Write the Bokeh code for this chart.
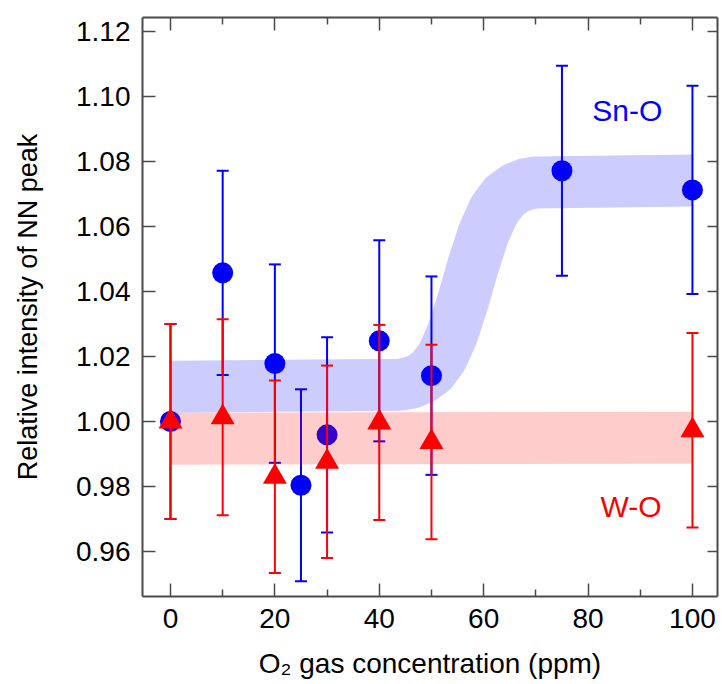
from bokeh.plotting import figure
from bokeh.models import (LinearAxis, FixedTicker, Range1d, Label, NumeralTickFormatter,
                          CustomLabelingPolicy)
from bokeh.embed import file_html
from bokeh.resources import INLINE

# ---- data ----
conc_sno = [0, 10, 20, 25, 30, 40, 50, 75, 100]
int_sno = [1.000, 1.0457, 1.0178, 0.9804, 0.9959, 1.0248, 1.0141, 1.0771, 1.0712]
err_sno = [0.030, 0.0314, 0.0305, 0.0295, 0.0300, 0.0309, 0.0305, 0.0323, 0.0320]

conc_wo = [0, 10, 20, 30, 40, 50, 100]
int_wo = [1.000, 1.0013, 0.9830, 0.9876, 0.9997, 0.9937, 0.9973]
err_wo = [0.030, 0.0301, 0.0296, 0.0296, 0.0300, 0.0299, 0.0299]

# guide bands (centre lines)
band_sno_x = [0, 44, 46, 48, 50, 52, 54, 56, 58, 60, 62, 64, 66, 68, 70, 100]
band_sno_y = [1.0107, 1.0113, 1.0119, 1.0132, 1.0155, 1.0198, 1.0269, 1.0368,
              1.0480, 1.0579, 1.0650, 1.0693, 1.0716, 1.0729, 1.0735, 1.0741]
band_wo_x = [0, 100]
band_wo_y = [0.9947, 0.9950]

x_ticks = [0, 20, 40, 60, 80, 100]
x_minor = [10, 30, 50, 70, 90]
y_ticks = [0.96, 0.98, 1.00, 1.02, 1.04, 1.06, 1.08, 1.10, 1.12]

FONT = "Liberation Sans"
AX = "#4a4a4a"

p = figure(width=722, height=684, output_backend="svg", toolbar_location=None,
           x_range=Range1d(-5.36, 104.8), y_range=Range1d(0.9462, 1.1242),
           min_border_left=142, min_border_right=5, min_border_top=17,
           min_border_bottom=88, x_axis_label="O\u2082 gas concentration (ppm)",
           y_axis_label="Relative intensity of NN peak")
p.grid.visible = False
p.outline_line_color = None
p.background_fill_color = "white"
p.border_fill_color = "white"

bottom = p.below[0]
left = p.left[0]
top = LinearAxis()
right = LinearAxis()
p.add_layout(top, "above")
p.add_layout(right, "right")

for ax in (bottom, top):
    ax.ticker = FixedTicker(ticks=x_ticks, minor_ticks=x_minor)
    ax.major_tick_in = 13
    ax.major_tick_out = 0
    ax.minor_tick_in = 7
    ax.minor_tick_out = 0
for ax in (left, right):
    ax.ticker = FixedTicker(ticks=y_ticks, minor_ticks=[])
    ax.formatter = NumeralTickFormatter(format="0.00")
    ax.major_tick_in = 13
    ax.major_tick_out = 0
    ax.minor_tick_in = 0
    ax.minor_tick_out = 0
right.major_tick_in = 10
for ax in (bottom, top, left, right):
    ax.axis_line_color = AX
    ax.axis_line_width = 2
    ax.major_tick_line_color = AX
    ax.major_tick_line_width = 1.5
    ax.minor_tick_line_color = AX
    ax.minor_tick_line_width = 1.5
    ax.major_label_text_font = FONT
    ax.major_label_text_font_size = "28px"
    ax.major_label_text_color = "black"
    ax.axis_label_text_font = FONT
    ax.axis_label_text_font_style = "normal"
    ax.axis_label_text_font_size = "27px"
    ax.axis_label_text_color = "black"
for ax in (top, right):
    ax.major_label_text_font_size = "0px"
    ax.major_label_standoff = 0
    ax.major_label_policy = CustomLabelingPolicy(code="return new Set()")
    ax.axis_label = None

left.major_label_standoff = 12
left.axis_label_standoff = 30
bottom.major_label_standoff = 12
bottom.axis_label_standoff = 17
bottom.axis_label_text_font_size = "28px"

# ---- Sn-O ----
p.line(band_sno_x, band_sno_y, line_width=52, line_color="blue", line_alpha=0.2,
       line_join="round", line_cap="butt")
lo_s = [v - e for v, e in zip(int_sno, err_sno)]
hi_s = [v + e for v, e in zip(int_sno, err_sno)]
p.segment(x0=conc_sno, y0=lo_s, x1=conc_sno, y1=hi_s, line_color="blue", line_width=2)
p.scatter(conc_sno, lo_s, marker="dash", size=12, line_color="blue", line_width=2)
p.scatter(conc_sno, hi_s, marker="dash", size=12, line_color="blue", line_width=2)
p.scatter(conc_sno, int_sno, marker="circle", size=21, fill_color="blue", line_color=None)

# ---- W-O ----
p.line(band_wo_x, band_wo_y, line_width=52, line_color="red", line_alpha=0.2,
       line_join="round", line_cap="butt")
lo_w = [v - e for v, e in zip(int_wo, err_wo)]
hi_w = [v + e for v, e in zip(int_wo, err_wo)]
p.segment(x0=conc_wo, y0=lo_w, x1=conc_wo, y1=hi_w, line_color="red", line_width=2)
p.scatter(conc_wo, lo_w, marker="dash", size=12, line_color="red", line_width=2)
p.scatter(conc_wo, hi_w, marker="dash", size=12, line_color="red", line_width=2)
p.scatter(conc_wo, int_wo, marker="triangle", size=24, fill_color="red", line_color=None)

p.add_layout(Label(x=80.8, y=1.0955, text="Sn-O", text_color="blue",
                   text_font=FONT, text_font_size="30px", text_baseline="alphabetic"))
p.add_layout(Label(x=82.4, y=0.9740, text="W-O", text_color="red",
                   text_font=FONT, text_font_size="30px", text_baseline="alphabetic"))

open("out.html", "w").write(file_html(p, INLINE))
